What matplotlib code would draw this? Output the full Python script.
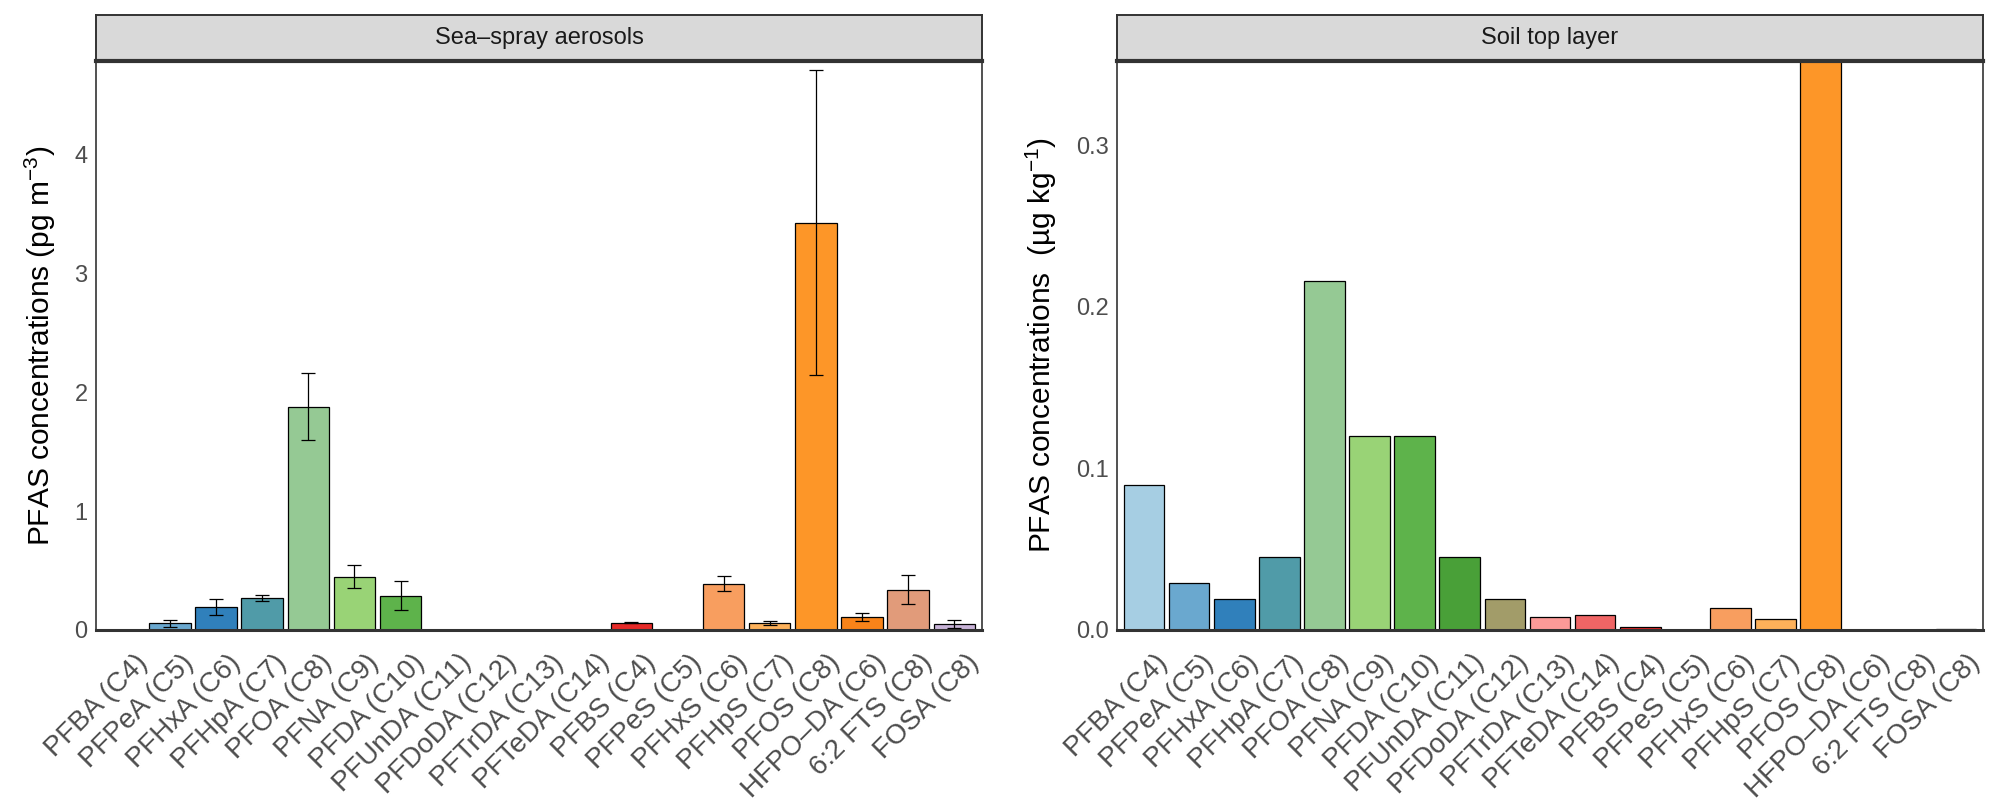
import numpy as np
import matplotlib
matplotlib.use("Agg")
import matplotlib.pyplot as plt
import matplotlib.transforms as mtransforms

plt.rcParams['font.family'] = ['Liberation Sans', 'DejaVu Sans']
plt.rcParams['mathtext.fontset'] = 'custom'
plt.rcParams['mathtext.rm'] = 'Liberation Sans'
plt.rcParams['mathtext.it'] = 'Liberation Sans:italic'

compounds = ['PFBA (C4)', 'PFPeA (C5)', 'PFHxA (C6)', 'PFHpA (C7)', 'PFOA (C8)',
             'PFNA (C9)', 'PFDA (C10)', 'PFUnDA (C11)', 'PFDoDA (C12)', 'PFTrDA (C13)',
             'PFTeDA (C14)', 'PFBS (C4)', 'PFPeS (C5)', 'PFHxS (C6)', 'PFHpS (C7)',
             'PFOS (C8)', 'HFPO\u2013DA (C6)', '6:2 FTS (C8)', 'FOSA (C8)']

colors = ['#a6cee3', '#6aa8cf', '#3080bb', '#509ba8', '#95c994',
          '#99d376', '#5eb34b', '#49a038', '#a29c69', '#fc9a98',
          '#ef6565', '#e62a28', '#f4a15f', '#f89e5f', '#fdb15a',
          '#fd9628', '#f88319', '#e19b7a', '#c8b3d7']

# sea-spray aerosols, pg m-3 (mean and error)
aerosol = [0.0, 0.055, 0.195, 0.27, 1.88,
           0.45, 0.29, 0.0, 0.0, 0.0,
           0.0, 0.06, 0.0, 0.39, 0.06,
           3.43, 0.11, 0.34, 0.05]
aerosol_err = [0.0, 0.03, 0.07, 0.025, 0.28,
               0.095, 0.12, 0.0, 0.0, 0.0,
               0.0, 0.005, 0.0, 0.065, 0.018,
               1.28, 0.033, 0.125, 0.035]

# soil top layer, ug kg-1
soil = [0.090, 0.029, 0.019, 0.045, 0.216,
        0.120, 0.120, 0.045, 0.019, 0.008,
        0.0093, 0.0018, 0.0, 0.0135, 0.0065,
        0.36, 0.0, 0.0, 0.0006]

panels = [
    ('Sea\u2013spray aerosols', aerosol, aerosol_err, 'PFAS concentrations (pg m$^{-3}$)', 4.79,
     [0, 1, 2, 3, 4], ['0', '1', '2', '3', '4'], [0.048, 0.443]),
    ('Soil top layer', soil, None, 'PFAS concentrations  (\u00b5g kg$^{-1}$)', 0.352,
     [0, 0.1, 0.2, 0.3], ['0.0', '0.1', '0.2', '0.3'], [0.5585, 0.433]),
]

fig = plt.figure(figsize=(20, 8), dpi=100)
bottom, height = 0.2125, 0.7113
strip_h = 0.0575
x = np.arange(len(compounds))
shift = mtransforms.ScaledTranslation(0.11, 0, fig.dpi_scale_trans)

for title, vals, err, ylab, ytop, yt, ytl, (x0, w) in panels:
    ax = fig.add_axes([x0, bottom, w, height])
    ax.bar(x, vals, width=0.9, color=colors, edgecolor='black', linewidth=0.9, zorder=2)
    if err is not None:
        e = np.array(err)
        m = e > 0
        ax.errorbar(x[m], np.array(vals)[m], yerr=e[m], fmt='none', ecolor='black',
                    elinewidth=0.9, capsize=5, capthick=0.9, zorder=3)
    ax.set_xlim(-0.6, len(compounds) - 0.4)
    ax.set_ylim(0, ytop)
    ax.set_yticks(yt)
    ax.set_yticklabels(ytl)
    ax.set_xticks(x)
    ax.set_xticklabels(compounds, rotation=45, ha='right', rotation_mode='anchor')
    ax.tick_params(axis='y', length=0, colors='#4d4d4d', labelsize=17, pad=6)
    ax.tick_params(axis='x', length=0, colors='#4d4d4d', labelsize=20, pad=14)
    for lbl in ax.get_xticklabels():
        lbl.set_transform(lbl.get_transform() + shift)
    ax.set_ylabel(ylab, fontsize=21.5, color='black', labelpad=12)
    for s in ax.spines.values():
        s.set_color('#333333')
        s.set_linewidth(1.2)
    ax.spines['bottom'].set_linewidth(2.2)
    # facet strip
    sax = fig.add_axes([x0, bottom + height, w, strip_h])
    sax.set_xticks([])
    sax.set_yticks([])
    sax.set_facecolor('#d9d9d9')
    for s in sax.spines.values():
        s.set_color('#333333')
        s.set_linewidth(1.4)
    sax.spines['bottom'].set_linewidth(3)
    sax.text(0.5, 0.5, title, ha='center', va='center', fontsize=17, color='#1a1a1a',
             transform=sax.transAxes)

fig.savefig('out.png', dpi=100)
